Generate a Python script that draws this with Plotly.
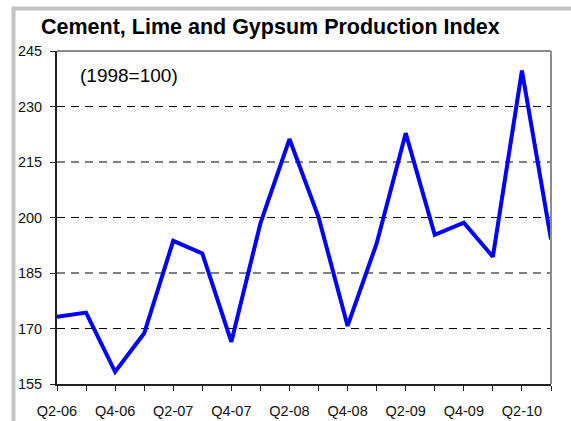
import plotly.graph_objects as go

# Quarterly index values (1998 = 100)
quarters = ["Q2-06", "Q3-06", "Q4-06", "Q1-07", "Q2-07", "Q3-07", "Q4-07", "Q1-08",
            "Q2-08", "Q3-08", "Q4-08", "Q1-09", "Q2-09", "Q3-09", "Q4-09", "Q1-10",
            "Q2-10", "Q3-10"]
index_values = [173.2, 174.3, 158.3, 168.7, 193.7, 190.3, 166.4, 198.4,
                221.2, 200.1, 170.7, 193.0, 222.8, 195.3, 198.6, 189.4,
                239.7, 194.1]

# Only every second quarter gets a label on the axis
shown_labels = [q if i % 2 == 0 else "" for i, q in enumerate(quarters)]
y_ticks = [155, 170, 185, 200, 215, 230, 245]

fig = go.Figure()
fig.add_trace(go.Scatter(
    x=quarters, y=index_values, mode="lines",
    line=dict(color="#0000FF", width=4), hoverinfo="x+y", showlegend=False,
))

# Dashed horizontal guides inside the plot
for v in y_ticks[1:-1]:
    fig.add_shape(type="line", xref="paper", yref="y", x0=0, x1=1, y0=v, y1=v,
                  line=dict(color="#000000", width=1, dash="8px,6px"), layer="below")

# Grey border on top and right of plot area
fig.add_shape(type="line", xref="paper", yref="paper", x0=0, x1=1, y0=1, y1=1,
              line=dict(color="#8c8c8c", width=2))
fig.add_shape(type="line", xref="paper", yref="paper", x0=1, x1=1, y0=0, y1=1,
              line=dict(color="#8c8c8c", width=2))

# Light grey chart frame along the left and top
fig.add_shape(type="path", xref="paper", yref="paper",
              path="M -0.088,-0.2 L -0.088,1.1276 L 1.2,1.1276",
              line=dict(color="#c4c4c4", width=4))

fig.add_annotation(text="<b>Cement, Lime and Gypsum Production Index</b>",
                   xref="paper", yref="paper", x=(270 - 57) / 494, y=(384 - 27) / 333,
                   showarrow=False, xanchor="center", yanchor="middle",
                   font=dict(family="Liberation Sans, Arial", size=21.5, color="#000000"))
fig.add_annotation(text="(1998=100)", xref="paper", yref="paper",
                   x=(78 - 57) / 494, y=(384 - 75) / 333, showarrow=False,
                   xanchor="left", yanchor="middle",
                   font=dict(family="Liberation Sans, Arial", size=19, color="#000000"))

fig.update_xaxes(
    type="category", range=[0, len(quarters) - 1],
    tickmode="array", tickvals=quarters, ticktext=shown_labels,
    ticks="outside", ticklen=5, tickcolor="#222222", tickwidth=1,
    showline=True, linecolor="#222222", linewidth=2,
    showgrid=False, zeroline=False, ticklabelstandoff=8, automargin=False,
    tickfont=dict(family="Liberation Sans, Arial", size=14.5, color="#111111"),
)
fig.update_yaxes(
    range=[155, 245], tickmode="array", tickvals=y_ticks,
    ticks="outside", ticklen=5, tickcolor="#222222", tickwidth=1,
    showline=True, linecolor="#222222", linewidth=2,
    showgrid=False, zeroline=False, ticklabelstandoff=5, automargin=False,
    tickfont=dict(family="Liberation Sans, Arial", size=14.5, color="#111111"),
)

fig.update_layout(
    width=571, height=421,
    margin=dict(l=57, r=20, t=51, b=37),
    paper_bgcolor="#ffffff", plot_bgcolor="#ffffff",
)

fig.write_html("out.html")
